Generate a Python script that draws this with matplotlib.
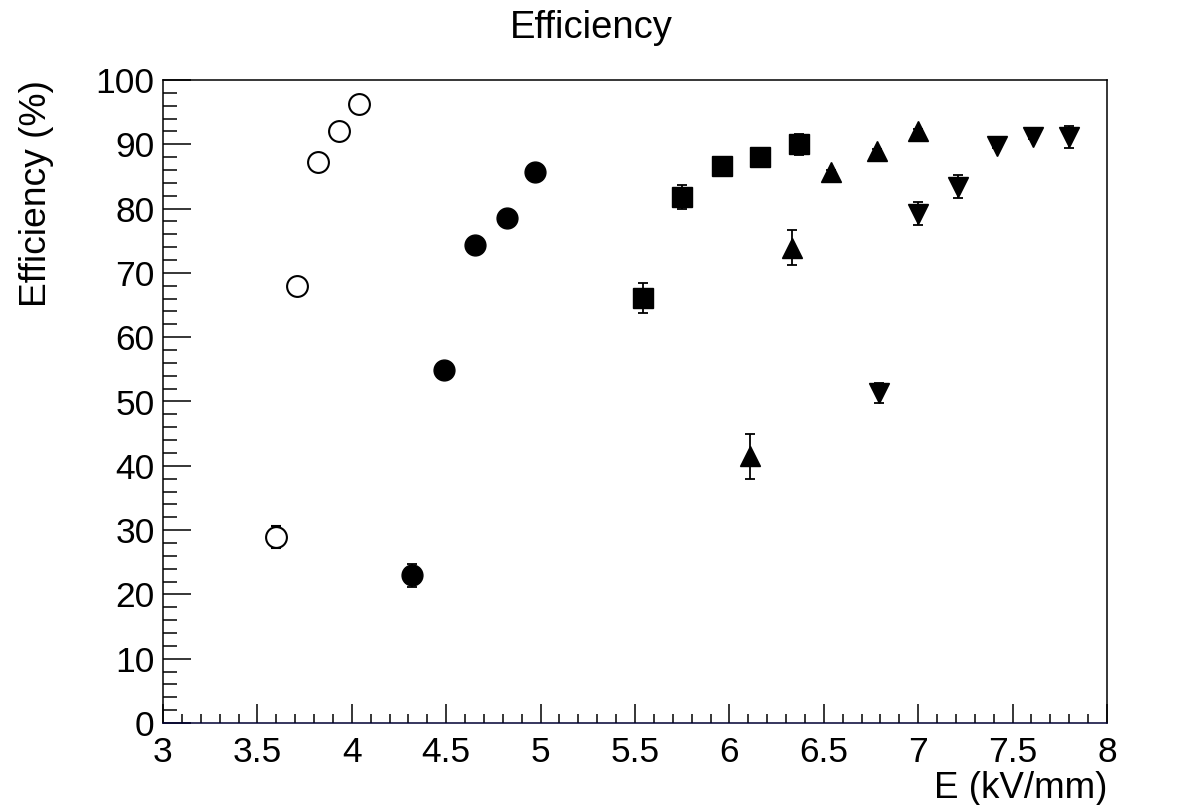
import numpy as np
import matplotlib.pyplot as plt
from matplotlib.ticker import MultipleLocator

plt.rcParams['font.family'] = ['Liberation Sans', 'DejaVu Sans']

# open circles
e_open = [3.60, 3.71, 3.82, 3.93, 4.04]
eff_open = [28.9, 68.0, 87.2, 92.1, 96.3]
err_open = [1.7, 0.5, 0.5, 0.5, 0.5]

# filled circles
e_circ = [4.32, 4.49, 4.65, 4.82, 4.97]
eff_circ = [23.0, 54.9, 74.4, 78.6, 85.7]
err_circ = [1.8, 0.5, 0.5, 0.5, 0.5]

# squares
e_sq = [5.54, 5.75, 5.96, 6.16, 6.37]
eff_sq = [66.1, 81.8, 86.7, 88.0, 90.0]
err_sq = [2.4, 1.8, 0.5, 0.5, 1.6]

# triangles up
e_up = [6.11, 6.33, 6.54, 6.78, 7.00]
eff_up = [41.5, 73.9, 85.7, 89.0, 92.1]
err_up = [3.5, 2.7, 0.3, 0.3, 0.3]

# triangles down
e_dn = [6.79, 7.00, 7.21, 7.42, 7.61, 7.80]
eff_dn = [51.3, 79.2, 83.4, 89.7, 91.2, 91.1]
err_dn = [1.6, 1.8, 1.8, 0.3, 0.3, 1.7]

fig = plt.figure(figsize=(11.82, 8.05), dpi=100)
ax = fig.add_axes([163/1182, 82/805, 944/1182, 643/805])

kw = dict(ls='none', color='black', ecolor='black', elinewidth=1.3, capsize=3.5, capthick=1.3, ms=15)
ax.errorbar(e_open, eff_open, yerr=err_open, marker='o', mfc='white', mec='black', mew=1.5, **kw)
ax.errorbar(e_circ, eff_circ, yerr=err_circ, marker='o', **kw)
kw['ms'] = 14.5
ax.errorbar(e_sq, eff_sq, yerr=err_sq, marker='s', **kw)
ax.errorbar(e_up, eff_up, yerr=err_up, marker='^', **kw)
ax.errorbar(e_dn, eff_dn, yerr=err_dn, marker='v', **kw)

ax.set_xlim(3, 8)
ax.set_ylim(0, 100)
ax.xaxis.set_major_locator(MultipleLocator(0.5))
ax.xaxis.set_minor_locator(MultipleLocator(0.1))
ax.yaxis.set_major_locator(MultipleLocator(10))
ax.yaxis.set_minor_locator(MultipleLocator(2))
ax.xaxis.set_major_formatter(plt.FuncFormatter(lambda v, p: '%g' % v))

ax.tick_params(axis='x', which='major', direction='in', length=13.5, width=1.1, labelsize=25.5, pad=9)
ax.tick_params(axis='x', which='minor', direction='in', length=6.5, width=1.1)
ax.tick_params(axis='y', which='major', direction='in', length=20, width=1.1, labelsize=25.5, pad=6)
ax.tick_params(axis='y', which='minor', direction='in', length=10, width=1.1)
for s in ax.spines.values():
    s.set_linewidth(1.1)
ax.spines['bottom'].set_color('#000033')

fig.text(591/1182, 1 - 38/805, 'Efficiency', fontsize=27.5, ha='center', va='baseline')
fig.text(37/1182, 1 - 80/805, 'Efficiency (%)', fontsize=26.8, rotation=90, ha='center', va='top')
fig.text(1107/1182, 1 - 798/805, 'E (kV/mm)', fontsize=26.5, ha='right', va='baseline')

fig.savefig('out.png', dpi=100)
